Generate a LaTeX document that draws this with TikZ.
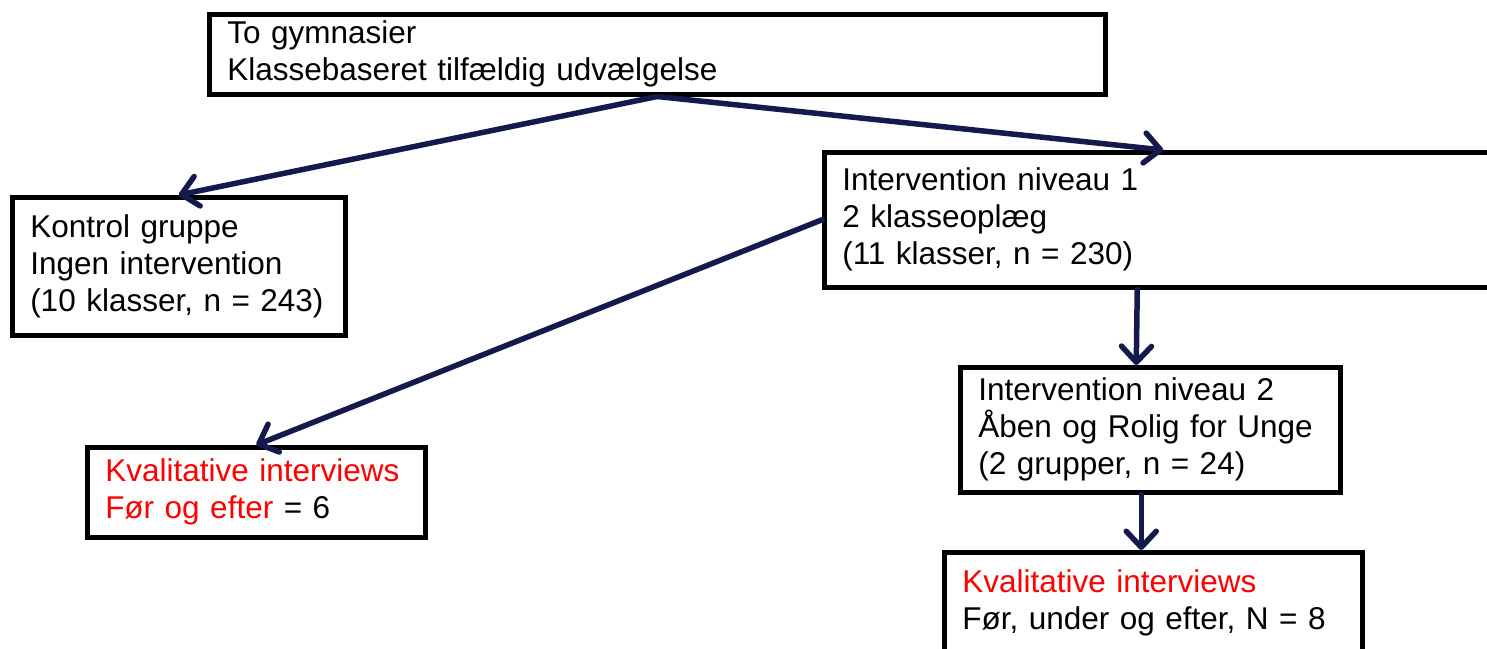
\documentclass[tikz,border=0pt]{standalone}
\usepackage{fontspec}
\setmainfont{Liberation Sans}
\usepackage{tikz}
\usetikzlibrary{arrows.meta,calc}
\definecolor{navy}{HTML}{141A4C}
\definecolor{kvalred}{HTML}{FF0000}
\tikzset{
	box/.style={draw, line width=4.5pt, anchor=north west, align=left,
		inner xsep=18pt, inner ysep=0pt, font=\fontsize{31.5}{37}\selectfont},
	arr/.style={draw=navy, line width=5.5pt, line cap=round, line join=round,
		-{Straight Barb[length=16pt,width=30pt,round]}}
}

\begin{document}
\begin{tikzpicture}[x=1pt,y=-1pt]
	\useasboundingbox (0,0) rectangle (1487,648);
	\clip (0,0) rectangle (1487,648);
	
	% boxes
	\node[box, text width=860pt, minimum height=80pt] (top) at (207,12)
		{To gymnasier\\Klassebaseret tilfældig udvælgelse};
	\node[box, text width=297pt, minimum height=138pt] (kontrol) at (10,195)
		{Kontrol gruppe\\Ingen intervention\\(10 klasser, n = 243)};
	\node[box, text width=642pt, minimum height=135pt] (niv1) at (822,150)
		{Intervention niveau 1\\2 klasseoplæg\\(11 klasser, n = 230)};
	\node[box, text width=302pt, minimum height=90pt] (kval1) at (85,445)
		{\textcolor{kvalred}{Kvalitative interviews}\\\textcolor{kvalred}{Før og efter} = 6};
	\node[box, text width=344pt, minimum height=125pt] (niv2) at (958,365)
		{Intervention niveau 2\\Åben og Rolig for Unge\\(2 grupper, n = 24)};
	\node[box, text width=382pt, minimum height=102pt] (kval2) at (942,550)
		{\textcolor{kvalred}{Kvalitative interviews}\\Før, under og efter, N = 8};
	
	% arrows
	\draw[arr] (top.south) -- (kontrol.north);
	\draw[arr] (top.south) -- (niv1.north);
	\draw[arr] (niv1.west) -- (kval1.north);
	\draw[arr] ([xshift=-26pt]niv1.south) -- ([xshift=-14pt]niv2.north);
	\draw[arr] ([xshift=-9pt]niv2.south) -- ([xshift=-12pt]kval2.north);
\end{tikzpicture}
\end{document}
